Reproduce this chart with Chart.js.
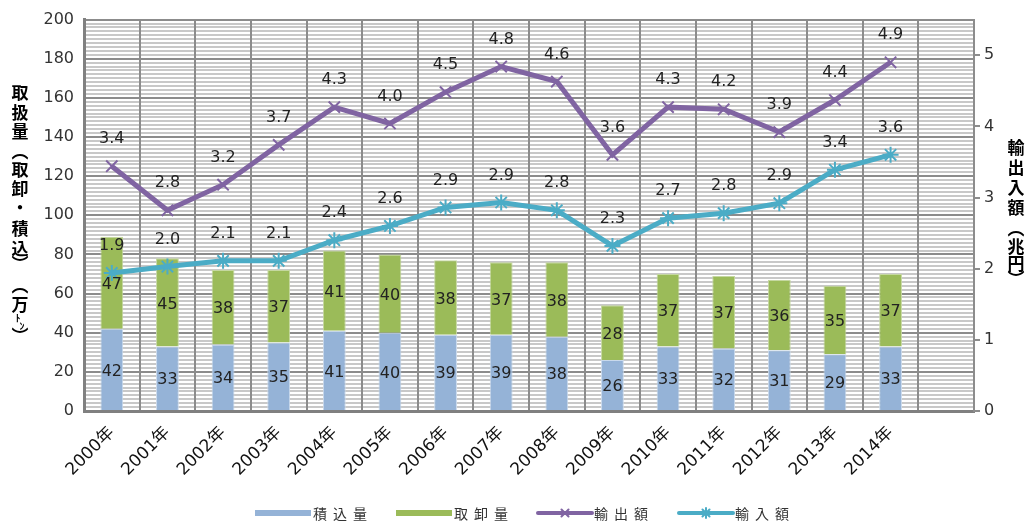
<!DOCTYPE html>
<html>
<head>
<meta charset="utf-8">
<script src="https://cdn.jsdelivr.net/npm/chart.js@4/dist/chart.umd.min.js"></script>
<style>
html,body{margin:0;padding:0;background:#fff;}
#wrap{width:1026px;height:525px;}
</style>
</head>
<body>
<div id="wrap"><canvas id="c" width="1026" height="525"></canvas></div>
<script>
const categories = ['2000年','2001年','2002年','2003年','2004年','2005年','2006年','2007年','2008年','2009年','2010年','2011年','2012年','2013年','2014年',''];
const loading = [42,33,34,35,41,40,39,39,38,26,33,32,31,29,33];      // 積込量
const unloading = [47,45,38,37,41,40,38,37,38,28,37,37,36,35,37];    // 取卸量
const exportsVal = [3.44,2.82,3.18,3.74,4.27,4.04,4.48,4.84,4.63,3.60,4.27,4.24,3.92,4.37,4.90]; // 輸出額
const importsVal = [1.94,2.03,2.11,2.11,2.40,2.60,2.86,2.93,2.82,2.32,2.71,2.78,2.92,3.39,3.60]; // 輸入額
const leftTicks = [0,20,40,60,80,100,120,140,160,180,200];
const leftMinorStep = 2;
const rightTicks = [0,1,2,3,4,5];
const seriesNames = ['積込量','取卸量','輸出額','輸入額'];

const COL = {blue:'#95b3d7', green:'#9bbb59', purple:'#8064a2', teal:'#4bacc6'};
const NUMFONT = '"DejaVu Sans","Noto Sans CJK JP",sans-serif';
const CJK = '"Noto Sans CJK JP",sans-serif';

const labelsPlugin = {
  id:'labels',
  beforeDraw(chart){
    // minor horizontal grid lines every 2 units on the left scale
    const ctx = chart.ctx, ys = chart.scales.y, area = chart.chartArea;
    ctx.save();
    ctx.strokeStyle = '#c8c8c8';
    ctx.lineWidth = 2;
    for (let v = ys.min; v <= ys.max; v += leftMinorStep) {
      if (v % 20 === 0) continue;
      const py = Math.round(ys.getPixelForValue(v));
      ctx.beginPath(); ctx.moveTo(area.left, py); ctx.lineTo(area.right, py); ctx.stroke();
    }
    ctx.restore();
  },
  afterDatasetsDraw(chart){
    const ctx = chart.ctx;
    ctx.save();
    ctx.font = '16px ' + NUMFONT;
    ctx.fillStyle = '#222';
    ctx.textAlign = 'center';
    ctx.textBaseline = 'middle';
    chart.data.datasets.forEach((ds,i)=>{
      const meta = chart.getDatasetMeta(i);
      meta.data.forEach((el,j)=>{
        const v = ds.data[j];
        if (v == null) return;
        if (ds.type === 'bar') {
          ctx.fillText(String(v), el.x, (el.y + el.base)/2 + 2);
        } else {
          ctx.fillText(v.toFixed(1), el.x, el.y - 27);
        }
      });
    });
    ctx.restore();
  },
  afterDraw(chart){
    const ctx = chart.ctx;
    ctx.save();
    ctx.fillStyle = '#000';
    ctx.textAlign = 'center';
    ctx.textBaseline = 'middle';
    const leftTitle = [['取',93],['扱',113],['量',132],['︵',152],['取',170],['卸',189],['・',208],['積',229],['込',249],['︶',264],['︵',286],['万',305],['︶',336]];
    ctx.font = 'bold 17px ' + CJK;
    leftTitle.forEach(([t,y])=>ctx.fillText(t,20,y));
    ctx.font = 'bold 10px ' + CJK;
    ctx.fillText('ﾄ',18,318);
    ctx.fillText('ﾝ',22,326);
    const rightTitle = [['輸',148],['出',168],['入',188],['額',208],['︵',229],['兆',247],['円',264],['︶',279]];
    ctx.font = 'bold 17px ' + CJK;
    rightTitle.forEach(([t,y])=>ctx.fillText(t,1016,y));
    // legend
    const ly = 513;
    const items = [
      {x:255, color:COL.blue, type:'bar'},
      {x:396, color:COL.green, type:'bar'},
      {x:536, color:COL.purple, type:'line', style:'crossRot'},
      {x:677, color:COL.teal, type:'line', style:'star'}
    ];
    ctx.font = '14px ' + CJK;
    items.forEach((it,k)=>{
      if (it.type === 'bar') {
        ctx.fillStyle = it.color;
        ctx.fillRect(it.x, ly-3, 56, 6);
      } else {
        ctx.strokeStyle = it.color;
        ctx.lineWidth = 4;
        ctx.lineCap = 'round';
        ctx.beginPath(); ctx.moveTo(it.x+2, ly); ctx.lineTo(it.x+56, ly); ctx.stroke();
        ctx.lineWidth = 2;
        Chart.helpers.drawPoint(ctx, {pointStyle: it.style, radius: 5, rotation: 0, borderWidth: 2}, it.x+29, ly);
      }
      ctx.fillStyle = '#333';
      ctx.textAlign = 'center';
      const name = seriesNames[k];
      for (let m = 0; m < name.length; m++) {
        ctx.fillText(name[m], it.x + 65 + m*20, ly+1);
      }
    });
    ctx.restore();
  }
};

new Chart(document.getElementById('c'), {
  data: {
    labels: categories,
    datasets: [
      {type:'line', label:seriesNames[2], data:exportsVal, yAxisID:'y1', order:0,
       borderColor:COL.purple, backgroundColor:COL.purple, borderWidth:5,
       pointStyle:'crossRot', pointRadius:8, pointBorderWidth:2, pointBorderColor:COL.purple, tension:0},
      {type:'line', label:seriesNames[3], data:importsVal, yAxisID:'y1', order:0,
       borderColor:COL.teal, backgroundColor:COL.teal, borderWidth:5,
       pointStyle:'star', pointRadius:8, pointBorderWidth:2, pointBorderColor:COL.teal, tension:0},
      {type:'bar', label:seriesNames[0], data:loading, yAxisID:'y', order:1, stack:'s',
       backgroundColor:COL.blue, borderColor:'#c9d9ec', borderWidth:1, barPercentage:0.41, categoryPercentage:1},
      {type:'bar', label:seriesNames[1], data:unloading, yAxisID:'y', order:1, stack:'s',
       backgroundColor:COL.green, borderColor:'#c5d8a0', borderWidth:1, barPercentage:0.41, categoryPercentage:1}
    ]
  },
  options: {
    responsive:false,
    animation:false,
    devicePixelRatio:1,
    layout:{padding:{top:17,left:0,right:0,bottom:0}},
    plugins:{legend:{display:false}, tooltip:{enabled:false}},
    scales:{
      x:{
        type:'category', stacked:true, offset:true,
        grid:{offset:true, color:'#8c8c8c', lineWidth:2, drawTicks:false},
        border:{color:'#808080', width:3},
        ticks:{maxRotation:45, minRotation:45, autoSkip:false, font:{size:17, family:NUMFONT}, color:'#111', padding:12},
        afterFit(s){ s.height = 114; }
      },
      y:{
        type:'linear', position:'left', stacked:true, min:0, max:200,
        afterBuildTicks(s){ s.ticks = leftTicks.map(v=>({value:v})); },
        ticks:{autoSkip:false, callback:(v)=> String(v),
          font:{size:16, family:NUMFONT}, color:'#333', padding:10},
        grid:{color:'#8c8c8c', lineWidth:2, drawTicks:false},
        border:{color:'#808080', width:3},
        afterFit(s){ s.width = 84; }
      },
      y1:{
        type:'linear', position:'right', min:0, max:5.5,
        afterBuildTicks(s){ s.ticks = rightTicks.map(v=>({value:v})); },
        ticks:{autoSkip:false, callback:(v)=> String(v),
          font:{size:16, family:NUMFONT}, color:'#333', padding:4},
        grid:{drawOnChartArea:false, drawTicks:true, tickLength:6, lineWidth:2, tickColor:'#8c8c8c'},
        border:{color:'#8c8c8c', width:2},
        afterFit(s){ s.width = 52; }
      }
    }
  },
  plugins:[labelsPlugin]
});
</script>
</body>
</html>
